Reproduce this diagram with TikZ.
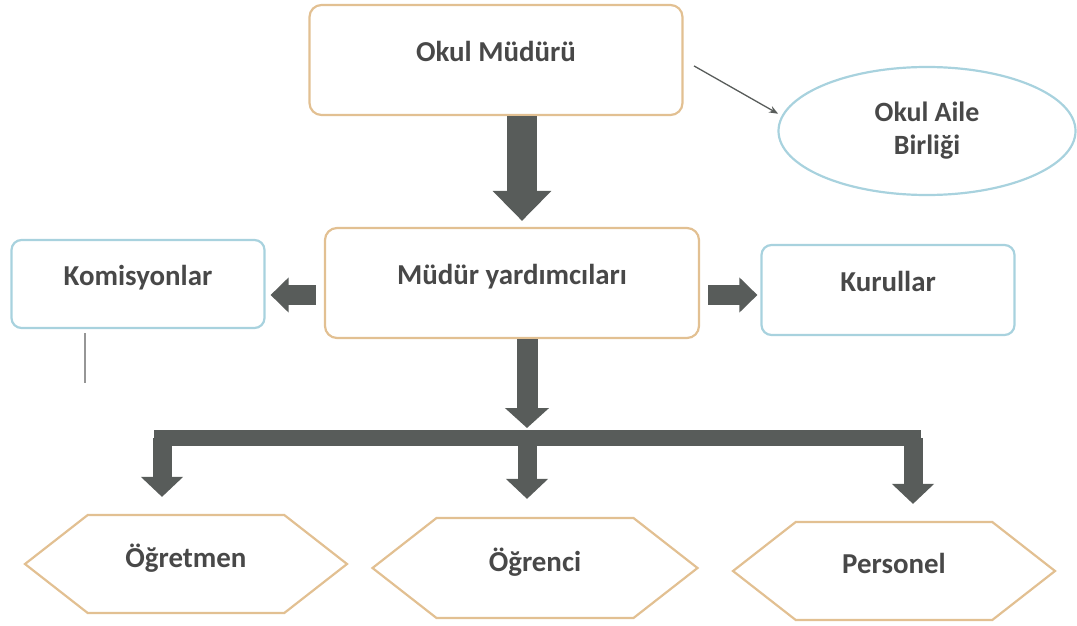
\documentclass[tikz,border=0pt]{standalone}
\usepackage{fontspec}
\setmainfont{Carlito}
\usepackage{tikz}
\usetikzlibrary{arrows.meta,shapes.geometric,shapes.symbols}
\definecolor{boxorange}{RGB}{226,192,146}
\definecolor{boxblue}{RGB}{168,210,222}
\definecolor{arrowgray}{RGB}{88,92,90}
\definecolor{textgray}{RGB}{72,72,72}
\definecolor{linegray}{RGB}{150,150,150}

\begin{document}
\begin{tikzpicture}[
  every node/.style={text=textgray,font=\fontsize{29}{33}\selectfont\bfseries},
  okbox/.style={draw=boxorange,line width=2.2bp,rounded corners=12bp,inner sep=0pt,text depth=18bp},
  bluebox/.style={draw=boxblue,line width=2.2bp,rounded corners=10bp,inner sep=0pt,text depth=18bp},
  hexbox/.style={draw=boxorange,line width=2.2bp,signal,signal to=west and east,signal pointer angle=76,inner sep=0pt,text depth=16bp},
  fatarrow/.style={draw=arrowgray,line width=30bp,-{Triangle[length=30bp,width=57bp]}},
  sidearrow/.style={draw=arrowgray,line width=20bp,-{Triangle[length=18bp,width=34bp]}},
  branch/.style={draw=arrowgray,line width=19bp,-{Triangle[length=20bp,width=41bp]}}]

\useasboundingbox (0bp,0bp) rectangle (1077bp,-626bp);

\node (OM) at (496bp,-60bp)[okbox,minimum width=373bp,minimum height=110bp] {Okul Müdürü};
\node (OAB) at (927bp,-131bp)[ellipse,draw=boxblue,line width=2.2bp,minimum width=297bp,minimum height=128bp,inner sep=0pt,align=center,font=\fontsize{28}{33}\selectfont\bfseries] {Okul Aile\\Birliği};
\node (MY) at (512bp,-283bp)[okbox,minimum width=374bp,minimum height=110bp] {Müdür yardımcıları};
\node (KOM) at (138bp,-284bp)[bluebox,minimum width=253bp,minimum height=88bp] {Komisyonlar};
\node (KUR) at (888bp,-290bp)[bluebox,minimum width=253bp,minimum height=90bp] {Kurullar};
\node (OGT) at (186bp,-564bp)[hexbox,minimum width=322bp,minimum height=98bp] {Öğretmen};
\node (OGR) at (535bp,-568bp)[hexbox,minimum width=325bp,minimum height=100bp] {Öğrenci};
\node (PER) at (894bp,-571bp)[hexbox,minimum width=322bp,minimum height=98bp] {Personel};

\coordinate (topspine) at (522bp,-100bp);
\coordinate (siderow) at (0bp,-295bp);
\coordinate (spine) at (527bp,-438bp);
\coordinate (barL) at (162bp,-438bp);
\coordinate (barR) at (913bp,-438bp);
\coordinate (tickA) at (85bp,-333bp);
\coordinate (tickB) at (85bp,-383bp);

% top
\draw [fatarrow,shorten >=6bp] (OM.south -| topspine) -- (MY.north -| topspine);
\draw [-{Stealth[length=9bp,width=7bp]},draw=arrowgray,line width=1.3bp,shorten <=12bp,shorten >=4bp] (OM.east) -- (OAB.174);

% middle
\draw [sidearrow,shorten <=8bp,shorten >=5bp] (MY.west |- siderow) -- (KOM.east |- siderow);
\draw [sidearrow,shorten <=8bp,shorten >=3bp] (MY.east |- siderow) -- (KUR.west |- siderow);
\draw [draw=linegray,line width=1.5bp] (tickA) -- (tickB);

% bottom
\draw [branch,line width=21bp,-{Triangle[length=20bp,width=43bp]},shorten >=10bp] (MY.south -| spine) -- (spine);
\draw [draw=arrowgray,line width=16bp,line cap=rect] (barL) -- (barR);
\draw [branch,shorten >=17bp] (barL) -- (OGT.north -| barL);
\draw [branch,shorten >=18bp] (spine) -- (OGR.north -| spine);
\draw [branch,shorten >=17bp] (barR) -- (PER.north -| barR);
\end{tikzpicture}
\end{document}
